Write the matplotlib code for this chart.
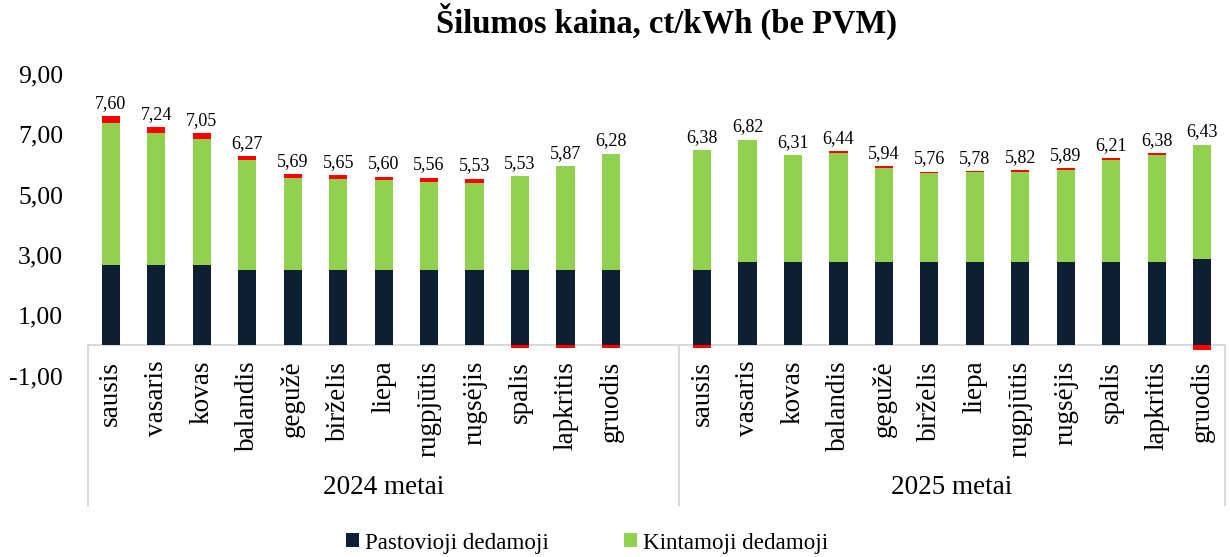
import numpy as np
import matplotlib
matplotlib.use("Agg")
import matplotlib.pyplot as plt
from matplotlib.patches import Patch
from matplotlib.transforms import blended_transform_factory

plt.rcParams['font.family'] = ['Liberation Serif', 'DejaVu Serif']

title = "Šilumos kaina, ct/kWh (be PVM)"
months = ["sausis", "vasaris", "kovas", "balandis", "gegužė", "birželis",
          "liepa", "rugpjūtis", "rugsėjis", "spalis", "lapkritis", "gruodis"]
groups = ["2024 metai", "2025 metai"]
legend_labels = ["Pastovioji dedamoji", "Kintamoji dedamoji"]

fixed_2024 = [2.65, 2.65, 2.65, 2.50, 2.50, 2.50, 2.50, 2.50, 2.50, 2.50, 2.50, 2.50]
variable_2024 = [4.74, 4.38, 4.18, 3.64, 3.05, 3.02, 2.97, 2.93, 2.90, 3.11, 3.45, 3.86]
other_2024 = [0.21, 0.21, 0.22, 0.13, 0.14, 0.13, 0.13, 0.13, 0.13, -0.08, -0.08, -0.08]
total_2024 = [7.60, 7.24, 7.05, 6.27, 5.69, 5.65, 5.60, 5.56, 5.53, 5.53, 5.87, 6.28]

fixed_2025 = [2.50, 2.76, 2.76, 2.76, 2.76, 2.76, 2.76, 2.76, 2.76, 2.76, 2.76, 2.85]
variable_2025 = [3.98, 4.06, 3.55, 3.62, 3.12, 2.96, 2.98, 3.00, 3.07, 3.38, 3.55, 3.81]
other_2025 = [-0.08, 0.0, 0.0, 0.06, 0.06, 0.04, 0.04, 0.06, 0.06, 0.07, 0.07, -0.15]
total_2025 = [6.38, 6.82, 6.31, 6.44, 5.94, 5.76, 5.78, 5.82, 5.89, 6.21, 6.38, 6.43]

yticks = [-1, 1, 3, 5, 7, 9]

c_fixed = "#0D1F33"
c_var = "#92D050"
c_other = "#FF0000"

W, H = 1230, 557
fig = plt.figure(figsize=(W / 100, H / 100), dpi=100)
ax = fig.add_axes([88 / W, 1 - 375.5 / H, (1225 - 88) / W, 301.5 / H])

for s in ["left", "top", "right"]:
    ax.spines[s].set_visible(False)
ax.spines["bottom"].set_position(("data", 0))
ax.spines["bottom"].set_color("#D9D9D9")
ax.spines["bottom"].set_linewidth(1.5)
ax.spines["bottom"].set_zorder(1)

x24 = np.arange(12)
x25 = np.arange(13, 25)
xs = np.concatenate([x24, x25])
fixed = np.array(fixed_2024 + fixed_2025)
var = np.array(variable_2024 + variable_2025)
oth = np.array(other_2024 + other_2025)
tot = total_2024 + total_2025

bw = 0.40
ax.bar(xs, fixed, bw, color=c_fixed, zorder=2)
ax.bar(xs, var, bw, bottom=fixed, color=c_var, zorder=2)
pos = np.where(oth > 0, oth, 0)
neg = np.where(oth < 0, oth, 0)
ax.bar(xs, pos, bw, bottom=fixed + var, color=c_other, zorder=2)
ax.bar(xs, neg, bw, bottom=0, color=c_other, zorder=2)

tops = fixed + var + pos
for x, t, v in zip(xs, tops, tot):
    ax.annotate(f"{v:.2f}".replace(".", ","), (x, t), xytext=(0, 3),
                textcoords="offset points", ha="center", va="bottom",
                fontsize=13, color="#000000")

ax.set_xlim(-0.5, 24.5)
ax.set_ylim(-1, 9)
ax.set_yticks(yticks)
ax.set_yticklabels([f"{v:.2f}".replace(".", ",") for v in yticks], fontsize=18.5)
ax.tick_params(axis="y", length=0, pad=18)

ax.set_xticks(xs)
ax.set_xticklabels(months + months, rotation=90, fontsize=19.5)
ax.tick_params(axis="x", length=0, pad=11)

tr = blended_transform_factory(ax.transData, ax.transAxes)
for xv in [-0.5, 12.5, 24.5]:
    ax.plot([xv, xv], [0.1, -0.43], transform=tr, color="#D9D9D9",
            lw=1.5, clip_on=False)

ax.text(6.0, -0.373, groups[0], transform=tr, ha="center", va="center", fontsize=19.5)
ax.text(18.5, -0.373, groups[1], transform=tr, ha="center", va="center", fontsize=19.5)

fig.text(666.5 / W, 1 - 33 / H, title, ha="center", va="baseline",
         fontsize=23.5, fontweight="bold")

handles = [Patch(facecolor=c_fixed), Patch(facecolor=c_var)]
fig.legend(handles, legend_labels, loc="center", bbox_to_anchor=(587 / W, 1 - 543 / H),
           ncol=2, frameon=False, fontsize=16.6, handlelength=0.55, handleheight=0.55,
           handletextpad=0.25, columnspacing=3.3)

fig.savefig("out.png", dpi=100)
